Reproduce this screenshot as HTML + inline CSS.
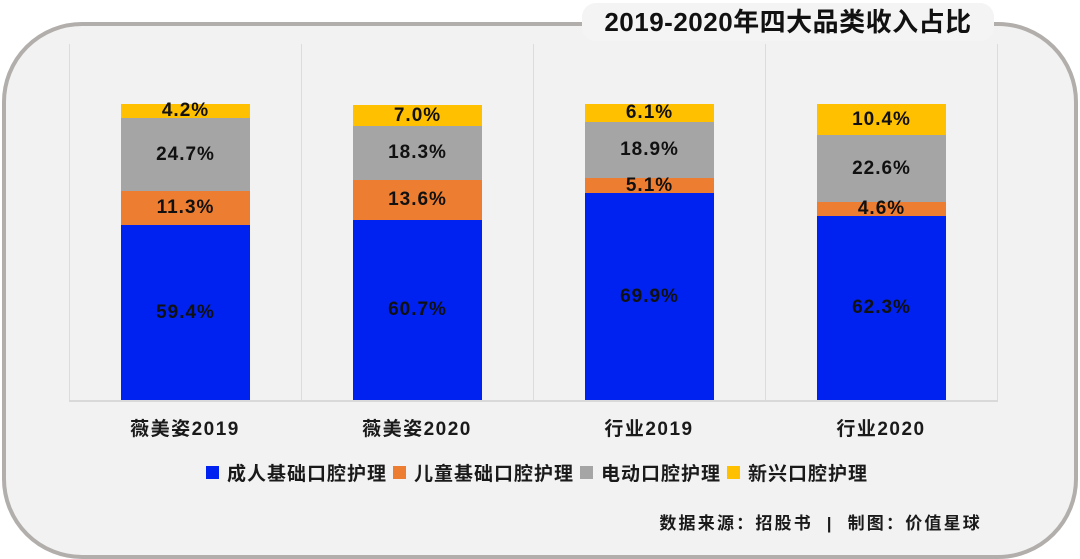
<!DOCTYPE html>
<html><head><meta charset="utf-8"><style>
body{margin:0;width:1080px;height:559px;background:#fff;position:relative;overflow:hidden;font-family:"Liberation Sans","Noto Sans CJK SC",sans-serif;font-weight:bold;color:#1a1a1a}
.frame{position:absolute;left:2px;top:22px;width:1068px;height:529px;border:4px solid #b1aeac;border-radius:80px;background:#f2f2f2}
.title{position:absolute;left:582px;top:3px;width:412px;height:38px;background:#f4f4f4;border-radius:14px;font-size:26px;line-height:38px;text-align:center;color:#111;letter-spacing:0.5px}
.g{position:absolute;top:44px;height:356px;width:1px;background:#dcdcdc}
.base{position:absolute;left:69px;top:400px;width:929px;height:2px;background:#d9d9d9}
.seg{position:absolute;display:flex;align-items:center;justify-content:center;font-size:19px;color:#111;letter-spacing:1px}
.cat{position:absolute;top:414px;width:232px;text-align:center;font-size:19px;letter-spacing:1.5px}
.leg{position:absolute;top:459px;left:200px;font-size:19px;letter-spacing:1px;display:flex;align-items:center;white-space:nowrap}
.sq{display:inline-block;width:13px;height:13px;margin:0 8px 0 6px}
.src{position:absolute;right:98px;top:509px;font-size:17px;letter-spacing:2.2px;white-space:nowrap}
</style></head><body>
<div class="frame"></div>
<div class="title">2019-2020年四大品类收入占比</div>
<div class="g" style="left:69px"></div><div class="g" style="left:301px"></div><div class="g" style="left:533px"></div><div class="g" style="left:765px"></div><div class="g" style="left:997px"></div>
<div class="base"></div>

<div class="seg" style="left:121px;width:129px;top:104px;height:14px;background:#ffc000">4.2%</div>
<div class="seg" style="left:121px;width:129px;top:118px;height:73px;background:#a5a5a5">24.7%</div>
<div class="seg" style="left:121px;width:129px;top:191px;height:34px;background:#ed7d31">11.3%</div>
<div class="seg" style="left:121px;width:129px;top:225px;height:175px;background:#0022f0">59.4%</div>

<div class="seg" style="left:353px;width:129px;top:105px;height:21px;background:#ffc000">7.0%</div>
<div class="seg" style="left:353px;width:129px;top:126px;height:54px;background:#a5a5a5">18.3%</div>
<div class="seg" style="left:353px;width:129px;top:180px;height:40px;background:#ed7d31">13.6%</div>
<div class="seg" style="left:353px;width:129px;top:220px;height:180px;background:#0022f0">60.7%</div>

<div class="seg" style="left:585px;width:129px;top:104px;height:18px;background:#ffc000">6.1%</div>
<div class="seg" style="left:585px;width:129px;top:122px;height:56px;background:#a5a5a5">18.9%</div>
<div class="seg" style="left:585px;width:129px;top:178px;height:15px;background:#ed7d31">5.1%</div>
<div class="seg" style="left:585px;width:129px;top:193px;height:207px;background:#0022f0">69.9%</div>

<div class="seg" style="left:817px;width:129px;top:104px;height:31px;background:#ffc000">10.4%</div>
<div class="seg" style="left:817px;width:129px;top:135px;height:67px;background:#a5a5a5">22.6%</div>
<div class="seg" style="left:817px;width:129px;top:202px;height:14px;background:#ed7d31">4.6%</div>
<div class="seg" style="left:817px;width:129px;top:216px;height:184px;background:#0022f0">62.3%</div>

<div class="cat" style="left:69px">薇美姿2019</div>
<div class="cat" style="left:301px">薇美姿2020</div>
<div class="cat" style="left:533px">行业2019</div>
<div class="cat" style="left:765px">行业2020</div>

<div class="leg"><span class="sq" style="background:#0022f0"></span>成人基础口腔护理<span class="sq" style="background:#ed7d31"></span>儿童基础口腔护理<span class="sq" style="background:#a5a5a5"></span>电动口腔护理<span class="sq" style="background:#ffc000"></span>新兴口腔护理</div>

<div class="src">数据来源：招股书 &nbsp;| &nbsp;制图：价值星球</div>
</body></html>
